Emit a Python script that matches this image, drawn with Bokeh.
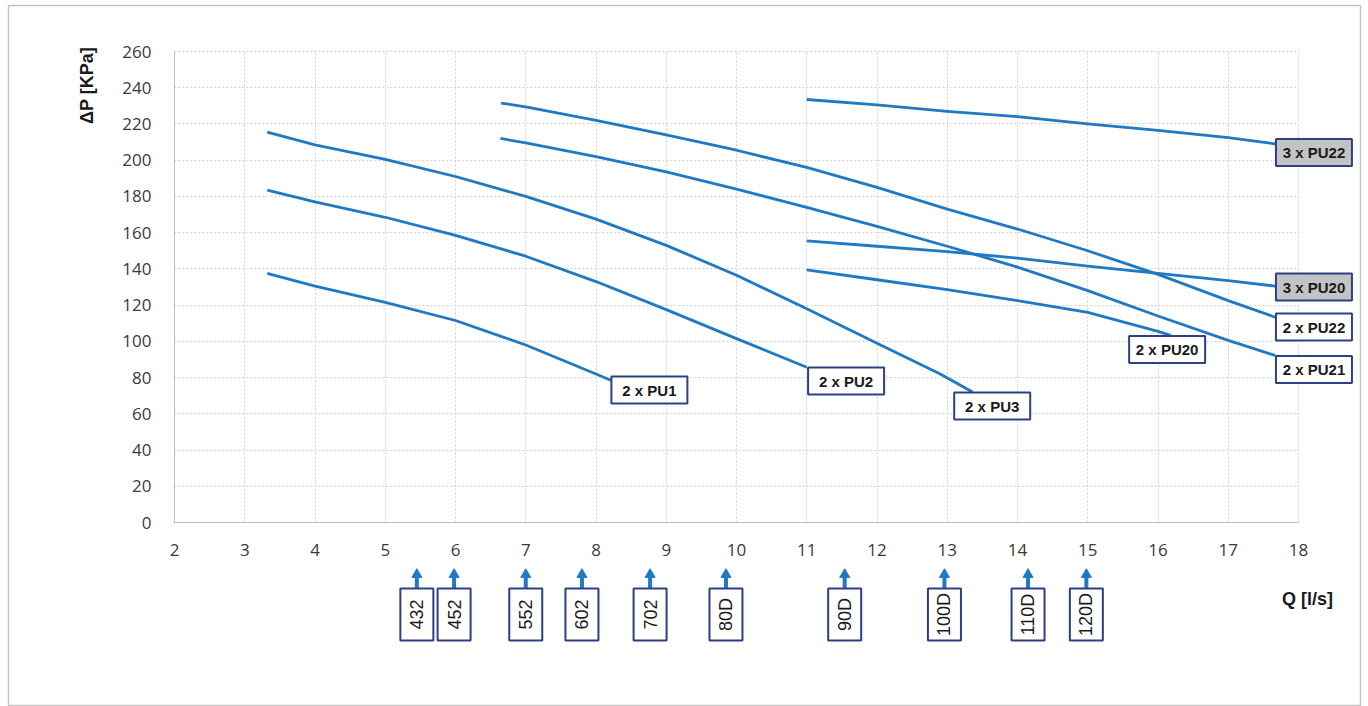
import math
from bokeh.plotting import figure
from bokeh.models import Range1d, FixedTicker
from bokeh.core.properties import value
from bokeh.embed import file_html
from bokeh.resources import INLINE

# ---------------- data ----------------
pu1_q = [3.32, 4, 5, 6, 7, 8, 8.21]
pu1_dp = [137.5, 130.5, 121.5, 111.5, 98, 82, 78.5]
pu2_q = [3.32, 4, 5, 6, 7, 8, 9, 10, 11.0]
pu2_dp = [183.5, 177, 168.5, 158.5, 147, 133, 117.5, 101.5, 85.7]
pu3_q = [3.32, 4, 5, 6, 7, 8, 9, 10, 11, 12, 12.9, 13.36]
pu3_dp = [215.5, 208.5, 200.5, 191, 180, 167.5, 153, 136.5, 118, 99, 82, 72]
pu21_q = [6.64, 7, 8, 9, 10, 11, 12, 13, 14, 15, 16, 17, 17.67]
pu21_dp = [212, 209.5, 202, 193.5, 184, 174, 163.5, 152.5, 141, 128, 114, 100.5, 92.2]
pu22_q = [6.65, 7, 8, 9, 10, 11, 12, 13, 14, 15, 16, 17, 17.67]
pu22_dp = [231.5, 229.5, 222, 214, 205.5, 196, 185, 173, 162, 150, 137, 122.5, 113.3]
pu20_q = [11, 12, 13, 14, 15, 16, 16.18]
pu20_dp = [139.5, 134, 128.5, 122.5, 116, 105.5, 103.3]
pu20x3_q = [11, 12, 13, 14, 15, 16, 17, 17.67]
pu20x3_dp = [155.5, 152.5, 149.5, 146, 141.5, 137.5, 133.5, 130.5]
pu22x3_q = [11, 12, 13, 14, 15, 16, 17, 17.67]
pu22x3_dp = [233.5, 230.5, 227, 224, 220, 216.5, 212.5, 209]

curve_names = ["2 x PU1", "2 x PU2", "2 x PU3", "2 x PU20", "2 x PU21",
               "2 x PU22", "3 x PU20", "3 x PU22"]
curves_q = [pu1_q, pu2_q, pu3_q, pu20_q, pu21_q, pu22_q, pu20x3_q, pu22x3_q]
curves_dp = [pu1_dp, pu2_dp, pu3_dp, pu20_dp, pu21_dp, pu22_dp, pu20x3_dp, pu22x3_dp]

# label box centres (q, dP)
label_q = [8.76, 11.56, 13.64, 16.13, 18.22, 18.22, 18.22, 18.22]
label_dp = [73.1, 78.1, 64.3, 95.5, 84.5, 107.9, 130.0, 204.3]
label_fill = ["#ffffff"] * 6 + ["#c3c3c3", "#c3c3c3"]

# unit models marked under the Q axis
models = ["432", "452", "552", "602", "702", "80D", "90D", "100D", "110D", "120D"]
model_q = [5.45, 5.98, 7.0, 7.8, 8.77, 9.85, 11.54, 12.96, 14.15, 14.98]

x_ticks = list(range(2, 19))
y_ticks = list(range(0, 261, 20))

# ---------------- layout ----------------
W, H = 1362, 706
PXQ = 70.25       # px per l/s
PXP = 1.8115      # px per kPa
OX, OY = 174, 522  # page pixel of (q=2, dP=0)
FL, FT, FR = 8, 5, 1360   # frame (outer border) left, top, right


def xdat(px):
    return 2 + (px - OX) / PXQ


def ydat(py):
    return (OY - py) / PXP


p = figure(width=W, height=H, x_range=Range1d(xdat(FL), xdat(FR)),
           y_range=Range1d(ydat(H), ydat(FT)), output_backend="svg",
           toolbar_location=None, min_border=0)
p.min_border_left = FL
p.min_border_top = FT
p.min_border_right = W - FR
p.min_border_bottom = 0
p.background_fill_color = "white"
p.border_fill_color = "white"
p.outline_line_color = "#c4c4c4"
p.outline_line_width = 1.5

GRID = "#cfcfcf"
AX = "#bdbdbd"
TXT = "#3a3a3a"

for ax in (p.xaxis[0], p.yaxis[0]):
    ax.axis_line_color = AX
    ax.axis_line_width = 1
    ax.major_tick_line_color = None
    ax.minor_tick_line_color = None
    ax.major_label_text_font = "Open Sans"
    ax.major_label_text_font_size = "17px"
    ax.major_label_text_color = TXT

p.xaxis.fixed_location = 0
p.yaxis.fixed_location = 2
p.xaxis.bounds = (2, 18)
p.yaxis.bounds = (0, 260)
p.xaxis.ticker = FixedTicker(ticks=x_ticks)
p.yaxis.ticker = FixedTicker(ticks=y_ticks)
p.xaxis.major_label_standoff = 15
p.yaxis.major_label_standoff = 17

p.xgrid.ticker = FixedTicker(ticks=x_ticks[1:])
p.ygrid.ticker = FixedTicker(ticks=y_ticks[1:])
for g in (p.xgrid[0], p.ygrid[0]):
    g.grid_line_color = GRID
    g.grid_line_dash = "2 2"
    g.grid_line_width = 1
p.xgrid.cross_bounds = (0, 260)
p.ygrid.cross_bounds = (2, 18)

BLUE = "#1f79c4"
NAVY = "#2f3f86"

for q, dp in zip(curves_q, curves_dp):
    p.line(q, dp, line_color=BLUE, line_width=2.8, line_join="round")

# curve labels
p.rect(x=label_q, y=label_dp, width=76, height=27, width_units="screen",
       height_units="screen", fill_color=label_fill, line_color=NAVY,
       line_width=2)
p.text(x=label_q, y=label_dp, text=curve_names, text_align="center",
       text_baseline="middle", text_font=value("Liberation Sans"),
       text_font_style="bold", text_font_size="15px", text_color="#1a1a1a")

# model markers below the axis
n = len(models)
p.segment(x0=model_q, y0=[ydat(588)] * n, x1=model_q, y1=[ydat(577)] * n,
          line_color=BLUE, line_width=4)
p.scatter(x=model_q, y=[ydat(574)] * n, marker="triangle", size=10,
          fill_color=BLUE, line_color=BLUE)
p.rect(x=model_q, y=[ydat(614)] * n, width=33, height=52, width_units="screen",
       height_units="screen", fill_color="white", line_color=NAVY,
       line_width=2)
p.text(x=model_q, y=[ydat(614)] * n, text=models, angle=math.pi / 2,
       text_align="center", text_baseline="middle",
       text_font=value("Liberation Sans"), text_font_size="18px",
       text_color="#1a1a1a")

# axis titles
p.text(x=[xdat(86)], y=[ydat(85)], text=["ΔP [KPa]"], angle=math.pi / 2,
       text_align="center", text_baseline="middle",
       text_font=value("Liberation Sans"), text_font_style="bold",
       text_font_size="18px", text_color="#1a1a1a")
p.text(x=[xdat(1307)], y=[ydat(598)], text=["Q [l/s]"], text_align="center",
       text_baseline="middle", text_font=value("Liberation Sans"),
       text_font_style="bold", text_font_size="18px", text_color="#1a1a1a")

open("out.html", "w").write(file_html(p, INLINE))
